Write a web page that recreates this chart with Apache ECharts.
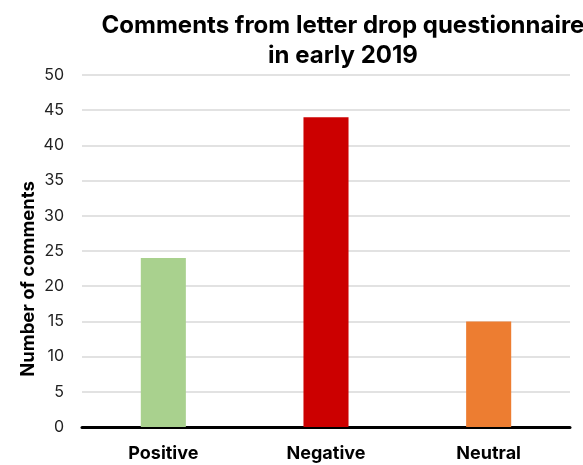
<!DOCTYPE html>
<html>
<head>
<meta charset="utf-8">
<script src="https://cdn.jsdelivr.net/npm/echarts@6/dist/echarts.min.js"></script>
<style>
  html, body { margin: 0; padding: 0; background: #fff; }
  #chart { width: 583px; height: 465px; }
</style>
</head>
<body>
<div id="chart"></div>
<script>
// Survey comment counts by sentiment
const categories = ['Positive', 'Negative', 'Neutral'];
const commentCounts = [24, 44, 15];
const barColors = ['#a9d18e', '#cc0000', '#ed7d31'];
const titleLines = ['Comments from letter drop questionnaire', 'in early 2019'];
const yAxisTitle = 'Number of comments';

const FONT = 'Inter, "Liberation Sans", sans-serif';

const chart = echarts.init(document.getElementById('chart'), null, { renderer: 'canvas' });

chart.setOption({
  animation: false,
  backgroundColor: '#ffffff',
  title: {
    text: titleLines.join('\n'),
    left: 338,
    textAlign: 'center',
    top: 6,
    textStyle: {
      fontFamily: FONT,
      fontSize: 24,
      fontWeight: 'bold',
      color: '#000',
      lineHeight: 30
    }
  },
  grid: { left: 82, right: 13, top: 75, bottom: 38, containLabel: false },
  xAxis: {
    type: 'category',
    data: categories,
    axisLine: { show: true, lineStyle: { color: '#000', width: 3 } },
    axisTick: { show: false },
    axisLabel: {
      margin: 18,
      fontFamily: FONT,
      fontSize: 18,
      fontWeight: 'bold',
      color: '#000'
    }
  },
  yAxis: {
    type: 'value',
    min: 0,
    max: 50,
    interval: 5,
    axisLine: { show: false },
    axisTick: { show: false },
    splitLine: { lineStyle: { color: '#d9d9d9', width: 1.5 } },
    axisLabel: {
      margin: 18,
      fontFamily: FONT,
      fontSize: 16,
      color: '#222'
    }
  },
  graphic: [{
    type: 'text',
    x: 28,
    y: 279,
    rotation: Math.PI / 2,
    style: {
      text: yAxisTitle,
      fontFamily: FONT,
      fontSize: 18.5,
      fontWeight: 'bold',
      fill: '#000',
      textAlign: 'center',
      textVerticalAlign: 'middle'
    }
  }],
  series: [{
    type: 'bar',
    barWidth: '27.7%',
    data: commentCounts.map((v, i) => ({ value: v, itemStyle: { color: barColors[i] } }))
  }]
});
</script>
</body>
</html>
